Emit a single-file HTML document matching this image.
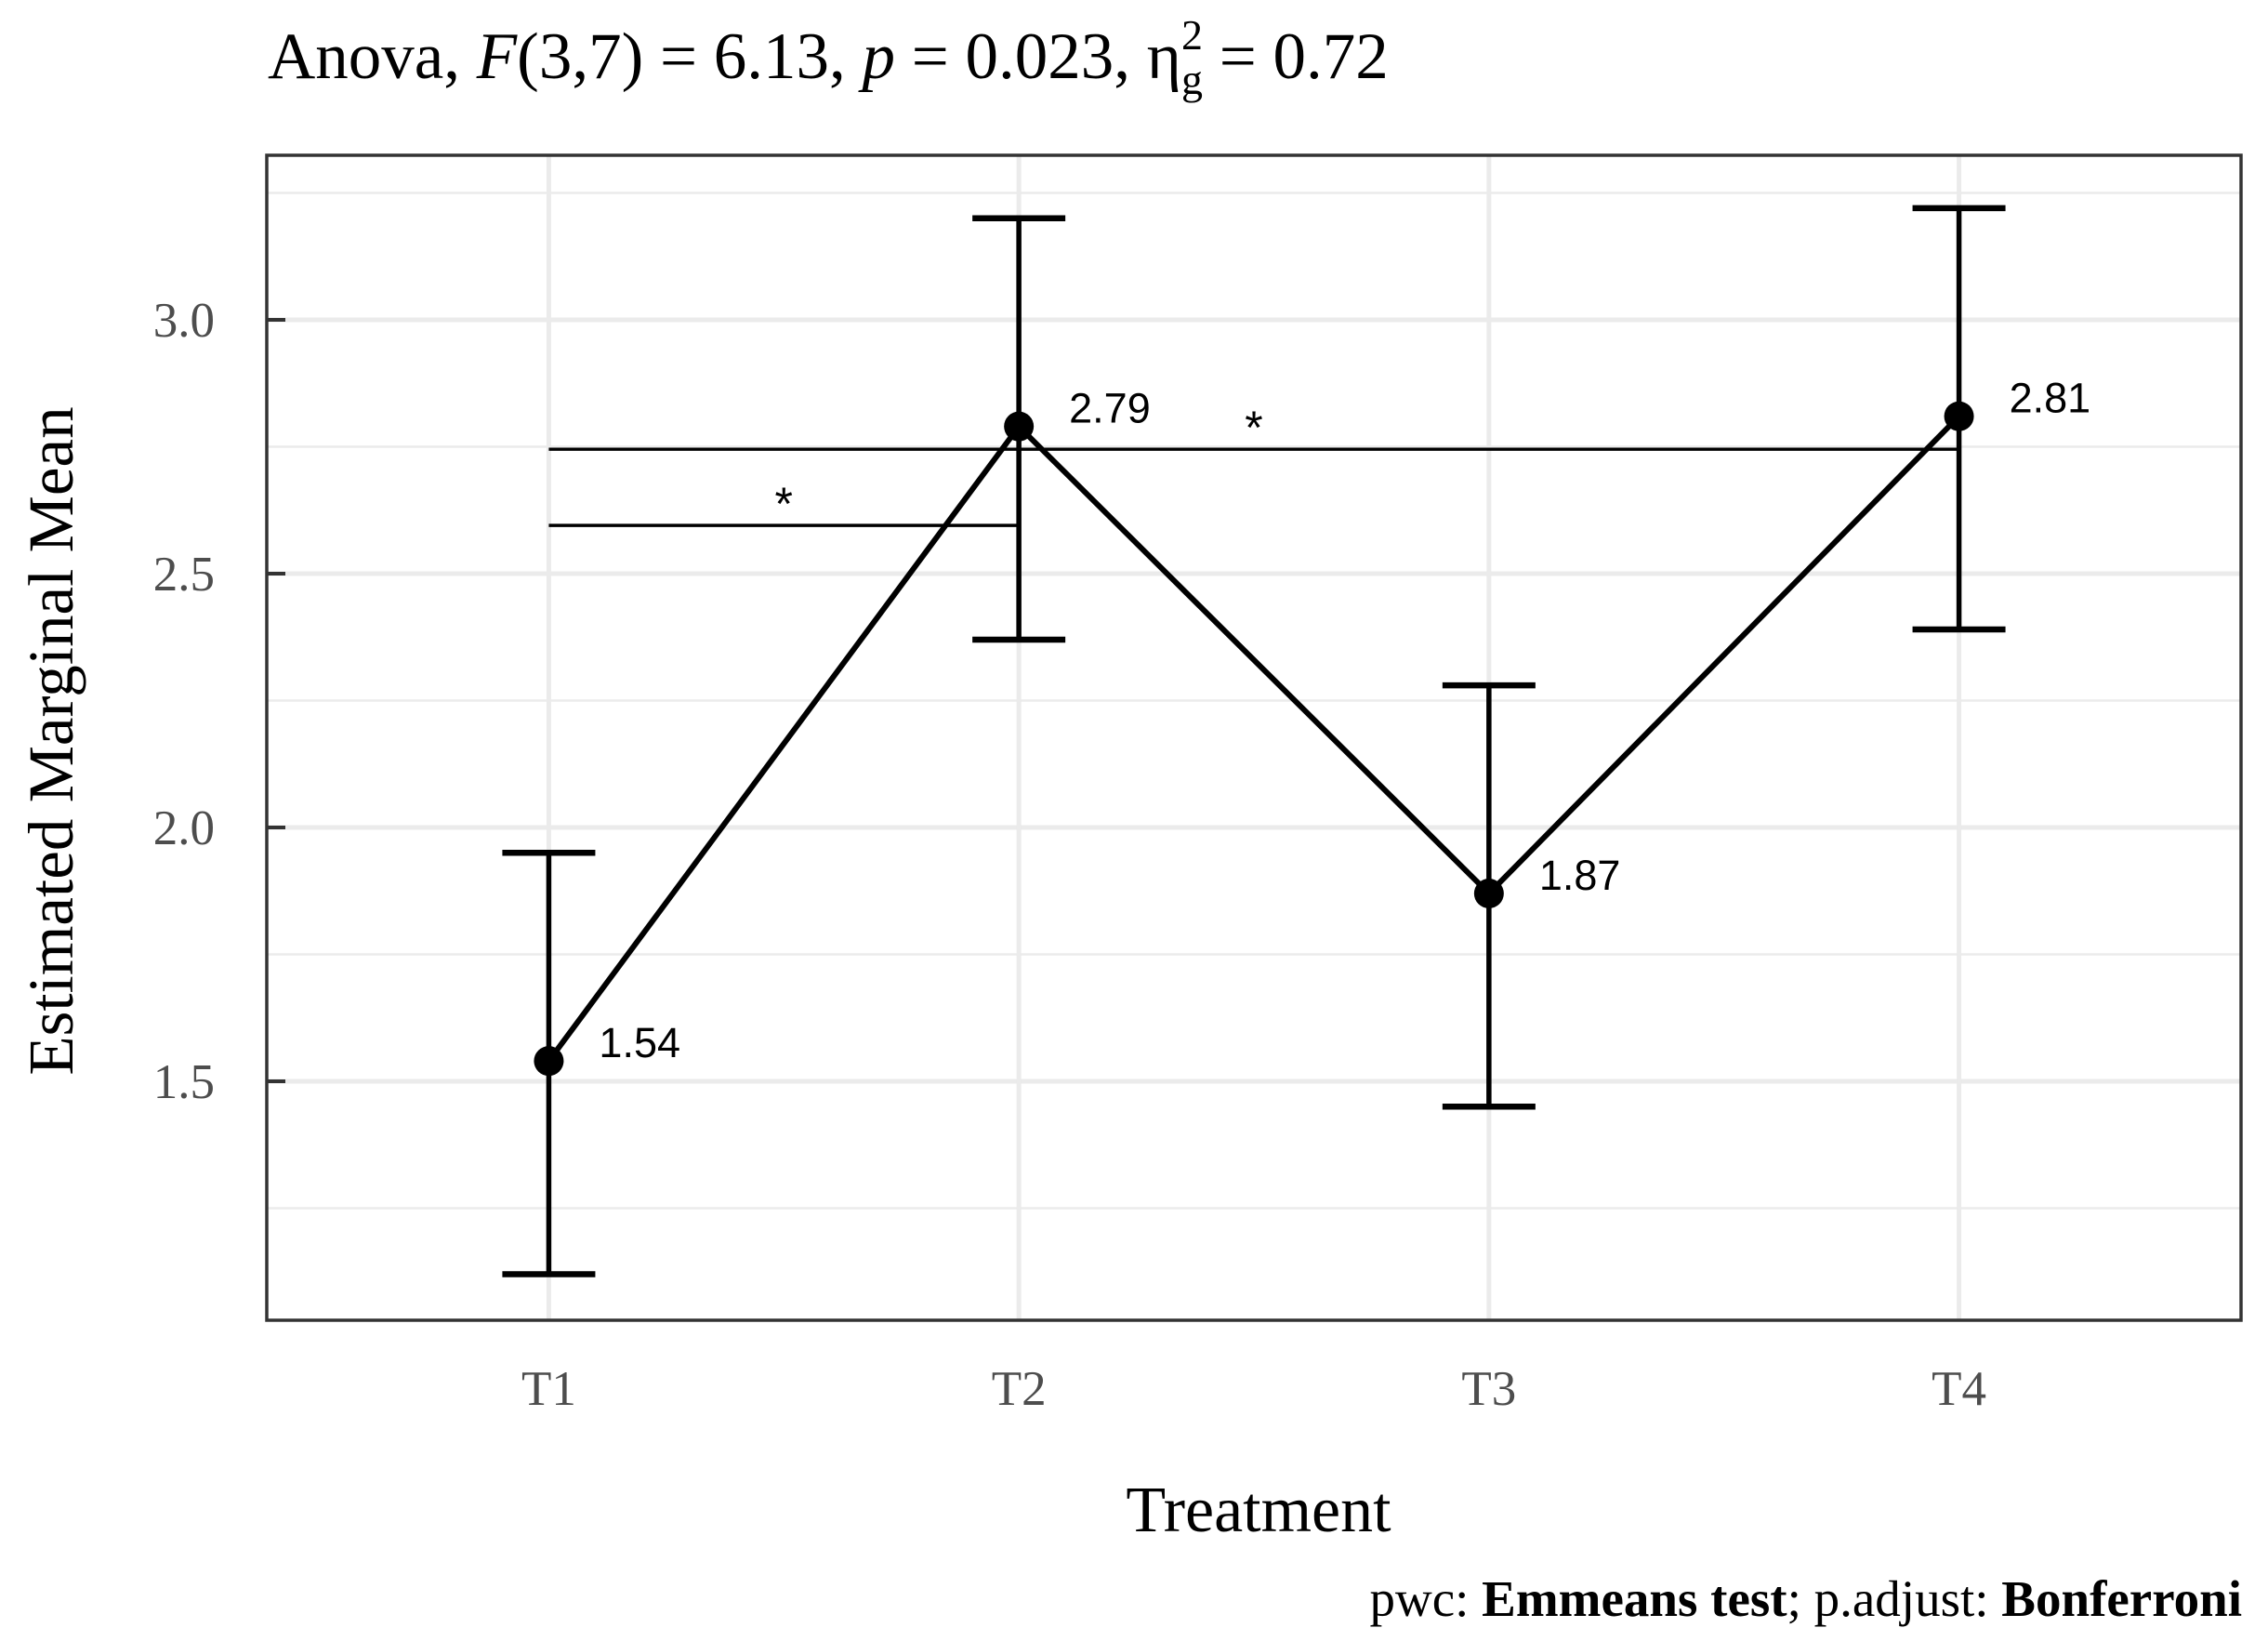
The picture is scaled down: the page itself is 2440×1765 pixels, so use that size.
<!DOCTYPE html>
<html><head><meta charset="utf-8"><style>
html,body{margin:0;padding:0;background:#fff;}
svg{display:block;}
.serif{font-family:"Liberation Serif",serif;}
.sans{font-family:"Liberation Sans",sans-serif;}
</style></head><body>
<svg id="chart" width="2440" height="1765" viewBox="0 0 2440 1765" xmlns="http://www.w3.org/2000/svg">
<text class="serif" x="288" y="84" font-size="71" fill="#000">Anova, <tspan font-style="italic">F</tspan>(3,7) = 6.13, <tspan font-style="italic">p</tspan> = 0.023, η<tspan font-size="46" dy="17">g</tspan><tspan font-size="46" dx="-23" dy="-48">2</tspan><tspan dy="31"> = 0.72</tspan></text>
<g id="grid"></g>
<g id="marks"></g>
<rect x="287" y="167" width="2124" height="1253" fill="none" stroke="#333" stroke-width="3.5"/>
<g id="axes"></g>
<text class="serif" x="1354" y="1647" font-size="70" text-anchor="middle" fill="#000">Treatment</text>
<text class="serif" transform="translate(78,797) rotate(-90)" font-size="69" text-anchor="middle" fill="#000">Estimated Marginal Mean</text>
<text class="serif" x="2412" y="1738" font-size="55" text-anchor="end" fill="#000">pwc: <tspan font-weight="bold">Emmeans test</tspan>; p.adjust: <tspan font-weight="bold">Bonferroni</tspan></text>
</svg>
<script>
const categories = ["T1","T2","T3","T4"];
const means = [1.54, 2.79, 1.87, 2.81];
const lower = [1.12, 2.37, 1.45, 2.39];
const upper = [1.95, 3.20, 2.28, 3.22];
const yTicks = [1.5, 2.0, 2.5, 3.0];
const yTickLabels = ["1.5","2.0","2.5","3.0"];
const yMinor = [1.25, 1.75, 2.25, 2.75, 3.25];
const brackets = [{from:0,to:1,y:2.595,label:"*"},{from:0,to:3,y:2.745,label:"*"}];

const NS="http://www.w3.org/2000/svg";
const L=287,R=2411,T=167,B=1420;
const xs=i=>L+(i+0.6)*(R-L)/4.2;
const ys=v=>344+(3-v)*546;
function mk(tag,attrs,parent){const e=document.createElementNS(NS,tag);for(const k in attrs)e.setAttribute(k,attrs[k]);parent.appendChild(e);return e;}
const grid=document.getElementById('grid'),marks=document.getElementById('marks'),axes=document.getElementById('axes');
yMinor.forEach(v=>{const e=mk('line',{x1:L,x2:R,y1:ys(v),y2:ys(v),stroke:'#ebebeb','stroke-width':2.5},grid);

});
yTicks.forEach((v,i)=>{const e=mk('line',{x1:L,x2:R,y1:ys(v),y2:ys(v),stroke:'#ebebeb','stroke-width':5},grid);


const t=mk('line',{x1:L,x2:L+20,y1:ys(v),y2:ys(v),stroke:'#333','stroke-width':4},axes);


const lb=mk('text',{x:231,y:ys(v)+18,'font-size':53,'text-anchor':'end',fill:'#4d4d4d',class:'serif'},axes);lb.textContent=yTickLabels[i];

});
categories.forEach((c,i)=>{const e=mk('line',{x1:xs(i),x2:xs(i),y1:T,y2:B,stroke:'#ebebeb','stroke-width':5},grid);


const lb=mk('text',{x:xs(i),y:1511,'font-size':53,'text-anchor':'middle',fill:'#4d4d4d',class:'serif'},axes);lb.textContent=c;

});
brackets.forEach(b=>{const e=mk('line',{x1:xs(b.from),x2:xs(b.to),y1:ys(b.y),y2:ys(b.y),stroke:'#000','stroke-width':3.4},marks);


const s=mk('text',{x:(xs(b.from)+xs(b.to))/2,y:ys(b.y)-6,'font-size':50,'text-anchor':'middle',fill:'#000',class:'sans'},marks);s.textContent=b.label;

});
categories.forEach((c,i)=>{const x=xs(i);
const v=mk('line',{x1:x,x2:x,y1:ys(upper[i]),y2:ys(lower[i]),stroke:'#000','stroke-width':5.5},marks);


[upper[i],lower[i]].forEach(val=>{const cap=mk('line',{x1:x-50,x2:x+50,y1:ys(val),y2:ys(val),stroke:'#000','stroke-width':6.5},marks);

});});
const pl=mk('polyline',{points:means.map((m,i)=>xs(i)+','+ys(m)).join(' '),fill:'none',stroke:'#000','stroke-width':6,'stroke-linejoin':'round'},marks);


means.forEach((m,i)=>{const p=mk('circle',{cx:xs(i),cy:ys(m),r:16,fill:'#000'},marks);


const lb=mk('text',{x:xs(i)+54,y:ys(m)-4,'font-size':45,fill:'#000',class:'sans'},marks);lb.textContent=m.toFixed(2);

});
</script>
</body></html>
